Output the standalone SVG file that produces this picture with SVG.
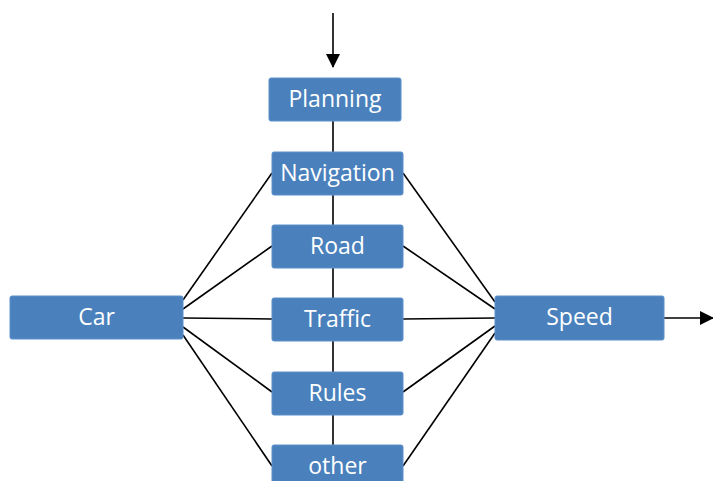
<svg xmlns="http://www.w3.org/2000/svg" width="713" height="481" viewBox="0 0 713 481">
<defs>
<marker id="ahd" markerWidth="14" markerHeight="14" refX="13" refY="7" orient="auto" markerUnits="userSpaceOnUse"><path d="M0,0 L14,7 L0,14 z" fill="#000"/></marker>
</defs>
<style>
.n rect{fill:#4a81bd;stroke:#5a8fcb;stroke-width:1}
.n text{fill:#fff;font-family:"Open Sans","Liberation Sans",sans-serif;font-size:23px;text-anchor:middle;dominant-baseline:central}
.c line{stroke:#000;stroke-width:1.6}
</style>
<rect width="713" height="481" fill="#fff"/>
<g id="connectors" class="c">
<line x1="333" y1="13" x2="333" y2="67" marker-end="url(#ahd)"/>
<line x1="333" y1="121" x2="333" y2="460"/>
<line x1="664" y1="318" x2="713" y2="318" marker-end="url(#ahd)"/>
<line x1="183" y1="300" x2="272" y2="173"/>
<line x1="183" y1="309" x2="272" y2="246"/>
<line x1="183" y1="318" x2="272" y2="319"/>
<line x1="183" y1="327" x2="272" y2="392"/>
<line x1="183" y1="335" x2="272" y2="466"/>
<line x1="403" y1="173" x2="495" y2="302"/>
<line x1="403" y1="246" x2="495" y2="309"/>
<line x1="403" y1="319" x2="495" y2="318"/>
<line x1="403" y1="392" x2="495" y2="326"/>
<line x1="403" y1="466" x2="495" y2="333"/>
</g>
<g id="planning" class="n"><rect x="269" y="78" width="132" height="43" rx="2"/><text x="335" y="97.5">Planning</text></g>
<g id="navigation" class="n"><rect x="272" y="152" width="131" height="43" rx="2"/><text x="337.5" y="171.5">Navigation</text></g>
<g id="road" class="n"><rect x="272" y="225" width="131" height="43" rx="2"/><text x="337.5" y="244.5">Road</text></g>
<g id="traffic" class="n"><rect x="272" y="298" width="131" height="43" rx="2"/><text x="337.5" y="317.5">Traffic</text></g>
<g id="rules" class="n"><rect x="272" y="372" width="131" height="43" rx="2"/><text x="337.5" y="391.5">Rules</text></g>
<g id="other" class="n"><rect x="272" y="445" width="131" height="43" rx="2"/><text x="337.5" y="464.5">other</text></g>
<g id="car" class="n"><rect x="10" y="296" width="173" height="43" rx="2"/><text x="96.5" y="315.5">Car</text></g>
<g id="speed" class="n"><rect x="495" y="296" width="169" height="44" rx="2"/><text x="579.5" y="316">Speed</text></g>
</svg>
